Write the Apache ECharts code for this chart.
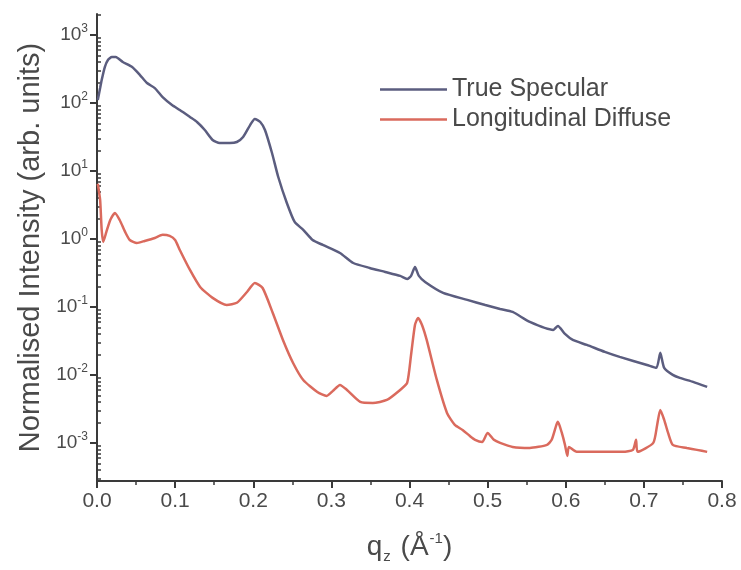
<!DOCTYPE html>
<html>
<head>
<meta charset="utf-8">
<title>Specular vs longitudinal diffuse</title>
<script src="https://cdn.jsdelivr.net/npm/echarts@6/dist/echarts.min.js"></script>
<style>
  html, body { margin: 0; padding: 0; background: #fff; }
  #chart { width: 741px; height: 570px; }
</style>
</head>
<body>
<div id="chart"></div>
<script>
// q_z (1/Å) and normalised intensity for the true specular scan
const qSpec = [0.001, 0.004, 0.006, 0.010, 0.014, 0.019, 0.024, 0.033, 0.045, 0.055,
  0.064, 0.074, 0.084, 0.096, 0.106, 0.119, 0.128, 0.138, 0.148, 0.157,
  0.170, 0.179, 0.187, 0.196, 0.202, 0.209, 0.215, 0.224, 0.232, 0.243,
  0.253, 0.264, 0.276, 0.289, 0.311, 0.328, 0.349, 0.369, 0.388, 0.397,
  0.402, 0.407, 0.412, 0.420, 0.443, 0.474, 0.497, 0.516, 0.532, 0.554,
  0.584, 0.590, 0.599, 0.609, 0.627, 0.650, 0.669, 0.704, 0.716, 0.721,
  0.726, 0.737, 0.746, 0.763, 0.781];
const iSpec = [111, 166, 218, 338, 429, 474, 474, 401, 338, 258,
  197, 166, 122, 93.5, 78.9, 62.2, 52.6, 40.1, 28.6, 25.8,
  25.8, 26.7, 31.6, 47.4, 58.2, 52.6, 40.1, 18.4, 8.16, 3.38,
  1.78, 1.36, 0.966, 0.816, 0.622, 0.443, 0.375, 0.327, 0.286, 0.258,
  0.286, 0.387, 0.286, 0.233, 0.161, 0.127, 0.107, 0.0935, 0.0844, 0.0601,
  0.0459, 0.0526, 0.0401, 0.0327, 0.0276, 0.0218, 0.0184, 0.0140, 0.0127, 0.0211,
  0.0127, 0.0100, 0.00903, 0.00789, 0.00667];

// q_z (1/Å) and normalised intensity for the longitudinal diffuse scan
const qDiff = [0.001, 0.004, 0.006, 0.008, 0.012, 0.017, 0.023, 0.029, 0.036, 0.042,
  0.051, 0.061, 0.074, 0.084, 0.093, 0.100, 0.106, 0.119, 0.132, 0.148,
  0.166, 0.179, 0.192, 0.202, 0.212, 0.225, 0.238, 0.251, 0.264, 0.282,
  0.294, 0.302, 0.311, 0.320, 0.337, 0.353, 0.371, 0.388, 0.397, 0.402,
  0.407, 0.411, 0.416, 0.422, 0.435, 0.448, 0.458, 0.468, 0.477, 0.484,
  0.493, 0.500, 0.508, 0.516, 0.532, 0.554, 0.576, 0.582, 0.588, 0.590,
  0.595, 0.599, 0.602, 0.604, 0.614, 0.640, 0.673, 0.686, 0.690, 0.692,
  0.712, 0.717, 0.721, 0.726, 0.731, 0.737, 0.755, 0.768, 0.781];
const iDiff = [6.5, 3.75, 1.36, 0.904, 1.27, 1.90, 2.41, 1.90, 1.27, 0.966,
  0.873, 0.935, 1.035, 1.15, 1.11, 0.966, 0.689, 0.350, 0.197, 0.136,
  0.107, 0.115, 0.166, 0.225, 0.190, 0.0816, 0.0327, 0.0150, 0.00843, 0.00562,
  0.00491, 0.00582, 0.00713, 0.00601, 0.00401, 0.00387, 0.00428, 0.00601, 0.00762, 0.0197,
  0.0543, 0.0689, 0.0543, 0.0327, 0.00843, 0.00276, 0.00184, 0.00155, 0.00127, 0.00111,
  0.00103, 0.00140, 0.00111, 0.00100, 0.000873, 0.000843, 0.000935, 0.00111, 0.00184, 0.00204,
  0.00140, 0.000935, 0.000644, 0.000873, 0.000738, 0.000738, 0.000738, 0.000789, 0.00111, 0.000738,
  0.00100, 0.00184, 0.00305, 0.00218, 0.00140, 0.000935, 0.000843, 0.000789, 0.000738];

const seriesNames = ['True Specular', 'Longitudinal Diffuse'];
const seriesColors = ['#5b5d7f', '#da6a5d'];
const xTicks = [0, 0.1, 0.2, 0.3, 0.4, 0.5, 0.6, 0.7, 0.8];
const yDecades = [1e-3, 1e-2, 1e-1, 1e0, 1e1, 1e2, 1e3];

const yMin = 2.75e-4, yMax = 2040;
// minor log ticks at 2..9 of each decade inside the range
const yMinor = [];
for (let e = -4; e <= 3; e++) {
  for (let k = 2; k <= 9; k++) {
    const v = k * Math.pow(10, e);
    if (v > yMin && v < yMax) yMinor.push(v);
  }
}

const FONT = '"Liberation Sans", Arial, sans-serif';
const TXT = '#4a4a4a';
const AXIS = '#3a3a3a';

const toPairs = (xs, ys) => xs.map((x, i) => [x, ys[i]]);

const chart = echarts.init(document.getElementById('chart'), null, { renderer: 'canvas' });
chart.setOption({
  animation: false,
  backgroundColor: '#ffffff',
  grid: { left: 97, right: 19, top: 14, bottom: 89, containLabel: false },
  legend: {
    orient: 'vertical',
    left: 380,
    top: 77,
    padding: 0,
    itemWidth: 67,
    itemHeight: 2.5,
    itemGap: 5,
    icon: 'rect',
    textStyle: { fontFamily: FONT, fontSize: 25, color: TXT },
    data: seriesNames.map((n, i) => ({ name: n, itemStyle: { color: seriesColors[i] } }))
  },
  xAxis: {
    type: 'value',
    min: 0,
    max: 0.8,
    interval: 0.1,
    name: '{t|q}{sub|z}{t| (Å}{sup|-1}{t|)}',
    nameLocation: 'middle',
    nameGap: 50,
    nameTextStyle: {
      fontFamily: FONT, color: TXT,
      rich: {
        t: { fontFamily: FONT, fontSize: 28, color: TXT },
        sub: { fontFamily: FONT, fontSize: 15, color: TXT, padding: [18, 2, 0, 1] },
        sup: { fontFamily: FONT, fontSize: 15, color: TXT, padding: [0, 0, 18, 1] }
      }
    },
    axisLine: { show: true, onZero: false, lineStyle: { color: AXIS, width: 2 } },
    axisTick: { show: true, length: 7, lineStyle: { color: AXIS, width: 2 }, customValues: xTicks },
    minorTick: { show: true, splitNumber: 2, length: 4, lineStyle: { color: AXIS, width: 1.5 } },
    axisLabel: {
      customValues: xTicks,
      margin: 10,
      fontFamily: FONT, fontSize: 21, color: TXT,
      formatter: v => v.toFixed(1)
    },
    splitLine: { show: false }
  },
  yAxis: [
    {
      type: 'log',
      logBase: 10,
      min: yMin,
      max: yMax,
      name: 'Normalised Intensity (arb. units)',
      nameLocation: 'middle',
      nameGap: 52,
      nameTextStyle: { fontFamily: FONT, fontSize: 29, color: TXT },
      axisLine: { show: true, onZero: false, lineStyle: { color: AXIS, width: 2 } },
      axisTick: { show: true, length: 7, lineStyle: { color: AXIS, width: 2 }, customValues: yDecades },
      axisLabel: {
        customValues: yDecades,
        margin: 9,
        fontFamily: FONT, fontSize: 19, color: TXT,
        formatter: v => '{b|10}{s|' + Math.round(Math.log10(v)) + '}',
        rich: {
          b: { fontFamily: FONT, fontSize: 19, color: TXT },
          s: { fontFamily: FONT, fontSize: 12, color: TXT, padding: [0, 0, 13, 0] }
        }
      },
      splitLine: { show: false }
    },
    {
      type: 'log',
      logBase: 10,
      min: yMin,
      max: yMax,
      axisLine: { show: false },
      axisTick: { show: true, length: 4, lineStyle: { color: AXIS, width: 1.5 }, customValues: yMinor },
      axisLabel: { show: false },
      splitLine: { show: false }
    }
  ],
  series: [
    {
      name: seriesNames[0],
      type: 'line',
      yAxisIndex: 0,
      symbol: 'none',
      smooth: 0.2,
      lineStyle: { color: seriesColors[0], width: 2.5 },
      itemStyle: { color: seriesColors[0] },
      data: toPairs(qSpec, iSpec)
    },
    {
      name: seriesNames[1],
      type: 'line',
      yAxisIndex: 0,
      symbol: 'none',
      smooth: 0.2,
      lineStyle: { color: seriesColors[1], width: 2.5 },
      itemStyle: { color: seriesColors[1] },
      data: toPairs(qDiff, iDiff)
    }
  ]
});
</script>
</body>
</html>
